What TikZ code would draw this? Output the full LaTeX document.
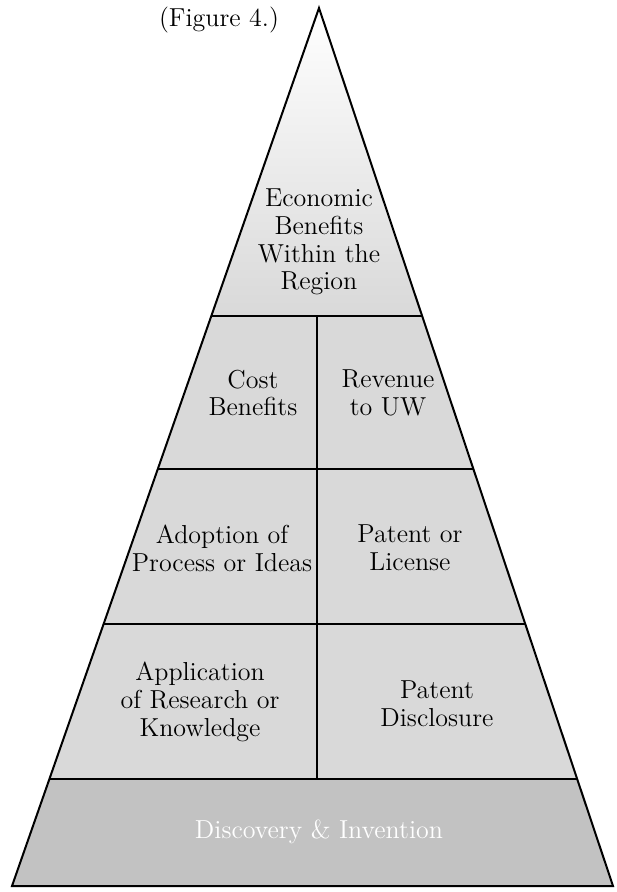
\documentclass[tikz,border=0pt]{standalone}
\usepackage{tikz}
\usetikzlibrary{calc}
\begin{document}
\begin{tikzpicture}[x=0.5pt, y=-0.5pt, font=\fontsize{13}{13.9}\selectfont,
        tier/.style={align=center}]
        \useasboundingbox (0,0) rectangle (616,892);
        \coordinate (apex) at (319,8);
        \coordinate (bl) at (12,886);
        \coordinate (br) at (613,886);
        \foreach \n/\t in {1/0.351,2/0.525,3/0.702,4/0.878} {
            \coordinate (l\n) at ($(apex)!\t!(bl)$);
            \coordinate (r\n) at ($(apex)!\t!(br)$);
        }
        \coordinate (m1) at ($(l1)!0.5!(r1)$);
        \fill[gray!30] (apex) -- (bl) -- (br) -- cycle;
        \shade[top color=white, bottom color=gray!30] (apex) -- (l1) -- (r1) -- cycle;
        \fill[gray!48] (l4) -- (bl) -- (br) -- (r4) -- cycle;
        \draw[line width=1pt] (apex) -- (bl) -- (br) -- cycle;
        \foreach \n in {1,...,4} \draw[line width=1pt] (l\n) -- (r\n);
        \draw[line width=1pt] (m1) -- (m1 |- l4);
        \node (caption) at (219,20) {(Figure 4.)};
        \node[tier] (econ) at (319,242) {Economic\\Benefits\\Within the\\Region};
        \node[tier] (cost) at (253,393) {Cost\\Benefits};
        \node[tier] (revenue) at (388,393) {Revenue\\to UW};
        \node[tier] (adoption) at (222,548) {Adoption of\\Process or Ideas};
        \node[tier] (patent) at (410,548) {Patent or\\License};
        \node[tier] (application) at (200,702) {Application\\of Research or\\Knowledge};
        \node[tier] (disclosure) at (437,704) {Patent\\Disclosure};
        \node[tier, text=white] (discovery) at (319,832) {Discovery \& Invention};
    \end{tikzpicture}
\end{document}
